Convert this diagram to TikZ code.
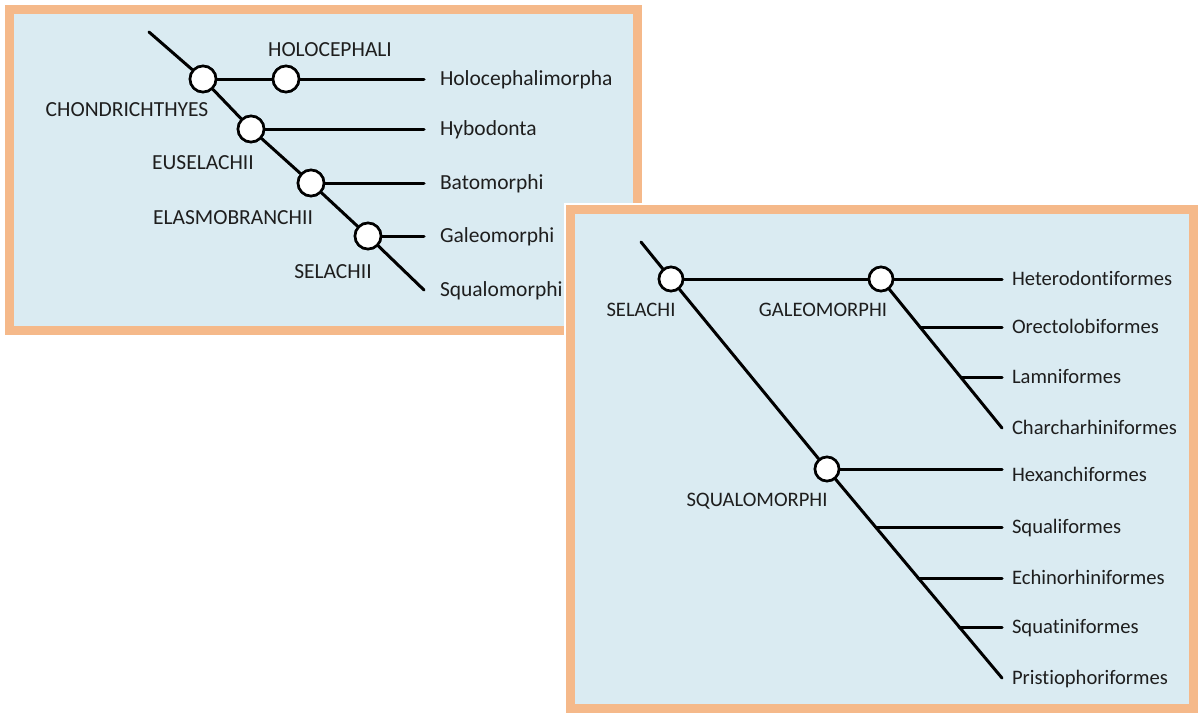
\documentclass[tikz,border=0pt]{standalone}
\usepackage{fontspec}
\setmainfont{Carlito}[Ligatures=NoCommon]
\definecolor{panelfill}{HTML}{DAEBF2}
\definecolor{panelframe}{HTML}{F5B98A}
\definecolor{ink}{HTML}{1E1E1E}
\begin{document}
\begin{tikzpicture}[x=1pt,y=-1pt,
  frame/.style={draw=panelframe, fill=panelfill, line width=9pt},
  branch/.style={line width=3pt, black, line cap=round},
  knot/.style={circle, draw=black, line width=2.6pt, fill=white, minimum size=26pt, inner sep=0pt},
  smallknot/.style={knot, minimum size=24pt},
  cladeL/.style={text=ink, inner sep=0pt, text height=13.5pt, text depth=0pt, font=\fontsize{21.5}{24}\selectfont},
  cladeR/.style={cladeL, font=\fontsize{20.6}{23}\selectfont},
  taxonL/.style={cladeL, anchor=west, outer xsep=16pt, outer ysep=0pt},
  taxonR/.style={cladeR, anchor=west, outer xsep=10pt, outer ysep=0pt}]
\useasboundingbox (0,0) rectangle (1198,713);

% ---------- upper panel: Chondrichthyes ----------
\draw[frame] (9.5,9.5) rectangle (637.5,330.5);

\coordinate (L0) at (149,32);
\node[knot] (c1) at (203,79) {};
\node[knot] (h1) at (286,79) {};
\node[knot] (c2) at (251,129) {};
\node[knot] (c3) at (311,183) {};
\node[knot] (c4) at (368,236) {};

\node[taxonL] (holo)  at (424,79)  {Holocephalimorpha};
\node[taxonL] (hybo)  at (424,129) {Hybodonta};
\node[taxonL] (bato)  at (424,183) {Batomorphi};
\node[taxonL] (galeo) at (424,236) {Galeomorphi};
\node[taxonL] (squal) at (424,290) {Squalomorphi};

\draw[branch] (L0) -- (c1) -- (c2) -- (c3) -- (c4) -- (squal.west);
\draw[branch] (c1) -- (h1) -- (holo.west);
\draw[branch] (c2) -- (hybo.west);
\draw[branch] (c3) -- (bato.west);
\draw[branch] (c4) -- (galeo.west);
\foreach \k in {c1,h1,c2,c3,c4} \node[knot] at (\k) {};

\node[cladeL] (lHolo)  at (330,50)  {HOLOCEPHALI};
\node[cladeL] (lChon)  at (127,110) {CHONDRICHTHYES};
\node[cladeL] (lEuse)  at (203,163) {EUSELACHII};
\node[cladeL] (lElas)  at (233,218) {ELASMOBRANCHII};
\node[cladeL] (lSela)  at (333,272) {SELACHII};

% ---------- lower panel: Selachii ----------
\draw[white, line width=13pt] (570.5,209.5) rectangle (1193.5,708.5);
\draw[frame] (570.5,209.5) rectangle (1193.5,708.5);

\coordinate (R0) at (641,242);
\node[smallknot] (s1) at (671,279) {};
\node[smallknot] (g1) at (881,279) {};
\node[smallknot] (q1) at (827,469) {};
\coordinate (gb1) at (920,327);
\coordinate (gb2) at (961,377);
\coordinate (qe)  at (1002,469);
\coordinate (qb1) at (876,527);
\coordinate (qb2) at (918,578);
\coordinate (qb3) at (959,627);

\node[taxonR] (hetero) at (1002,279) {Heterodontiformes};
\node[taxonR] (orecto) at (1002,327) {Orectolobiformes};
\node[taxonR] (lamni)  at (1002,377) {Lamniformes};
\node[taxonR] (charc)  at (1002,428) {Charcharhiniformes};
\node[taxonR] (hexan)  at (1002,475) {Hexanchiformes};
\node[taxonR] (squali) at (1002,527) {Squaliformes};
\node[taxonR] (echin)  at (1002,578) {Echinorhiniformes};
\node[taxonR] (squat)  at (1002,627) {Squatiniformes};
\node[taxonR] (prist)  at (1002,678) {Pristiophoriformes};

\draw[branch] (R0) -- (s1) -- (q1) -- (prist.west);
\draw[branch] (s1) -- (g1) -- (hetero.west);
\draw[branch] (g1) -- (charc.west);
\draw[branch] (gb1) -- (orecto.west);
\draw[branch] (gb2) -- (lamni.west);
\draw[branch] (q1) -- (qe);
\draw[branch] (qb1) -- (squali.west);
\draw[branch] (qb2) -- (echin.west);
\draw[branch] (qb3) -- (squat.west);
\foreach \k in {s1,g1,q1} \node[smallknot] at (\k) {};

\node[cladeR] (lSelachi) at (641,310) {SELACHI};
\node[cladeR] (lGaleo)   at (823,310) {GALEOMORPHI};
\node[cladeR] (lSqualo)  at (757,500) {SQUALOMORPHI};
\end{tikzpicture}
\end{document}
